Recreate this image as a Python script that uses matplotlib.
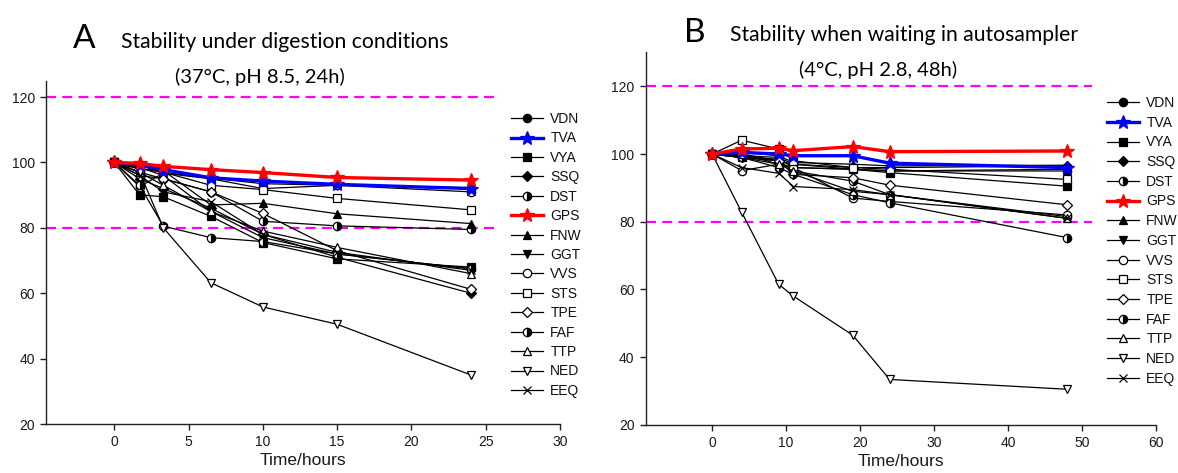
import matplotlib
matplotlib.use("Agg")
import matplotlib.pyplot as plt

# ---------------- data ----------------
names = ["VDN", "TVA", "VYA", "SSQ", "DST", "GPS", "FNW", "GGT",
         "VVS", "STS", "TPE", "FAF", "TTP", "NED", "EEQ"]

time_a = [0, 1.7, 3.3, 6.5, 10, 15, 24]
vals_a = {
    "VDN": [100, 99.0, 97.0, 95.2, 93.5, 93.0, 92.3],
    "TVA": [100, 99.3, 97.8, 95.3, 94.3, 93.3, 92.0],
    "VYA": [100, 90.1, 89.5, 83.5, 75.5, 70.5, 68.0],
    "SSQ": [100, 95.0, 92.0, 86.0, 78.0, 71.0, 60.0],
    "DST": [100, 97.0, 95.0, 91.0, 82.0, 80.6, 79.5],
    "GPS": [100, 99.7, 98.8, 97.8, 96.9, 95.4, 94.6],
    "FNW": [100, 98.0, 97.5, 87.0, 87.5, 84.3, 81.3],
    "GGT": [100, 98.5, 96.0, 85.0, 77.0, 72.0, 67.5],
    "VVS": [100, 92.6, 96.7, 95.0, 92.0, 93.0, 91.0],
    "STS": [100, 98.0, 97.0, 93.0, 91.7, 89.0, 85.5],
    "TPE": [100, 96.0, 95.0, 91.0, 84.4, 73.0, 61.2],
    "FAF": [100, 93.0, 80.5, 77.0, 75.8, 72.0, 67.5],
    "TTP": [100, 97.0, 93.0, 85.0, 79.0, 74.0, 66.0],
    "NED": [100, 97.0, 80.0, 63.2, 55.8, 50.5, 35.0],
    "EEQ": [100, 96.0, 91.0, 88.0, 78.0, 72.5, 67.0],
}

time_b = [0, 4, 9, 11, 19, 24, 48]
vals_b = {
    "VDN": [100, 99.5, 99.0, 97.0, 95.5, 95.0, 95.0],
    "TVA": [100, 100.5, 100.0, 99.5, 99.5, 97.3, 96.0],
    "VYA": [100, 99.0, 98.5, 96.0, 95.5, 94.5, 90.5],
    "SSQ": [100, 99.0, 98.0, 97.0, 96.0, 96.0, 96.5],
    "DST": [100, 99.0, 98.0, 95.0, 92.0, 88.0, 81.5],
    "GPS": [100, 101.5, 101.7, 101.0, 102.2, 100.7, 100.9],
    "FNW": [100, 100.5, 99.5, 97.5, 97.0, 96.5, 96.7],
    "GGT": [100, 99.0, 97.0, 96.0, 95.5, 95.0, 95.5],
    "VVS": [100, 95.1, 97.0, 96.0, 87.0, 86.0, 82.0],
    "STS": [100, 104.1, 101.5, 98.0, 96.0, 95.5, 92.5],
    "TPE": [100, 100.0, 98.0, 94.0, 93.0, 90.8, 85.0],
    "FAF": [100, 99.0, 96.0, 94.0, 88.0, 85.6, 75.3],
    "TTP": [100, 100.0, 97.0, 95.0, 89.0, 88.0, 81.0],
    "NED": [100, 82.8, 61.5, 58.0, 46.5, 33.4, 30.5],
    "EEQ": [100, 96.0, 94.3, 90.4, 89.5, 88.0, 81.0],
}

limit_lines = [80, 120]
xticks_a = [0, 5, 10, 15, 20, 25, 30]
xticks_b = [0, 10, 20, 30, 40, 50, 60]
yticks = [20, 40, 60, 80, 100, 120]

# ---------------- styles ----------------
K = "black"
styles = {
    "VDN": dict(marker="o", mfc=K, mec=K, ms=6),
    "TVA": dict(marker="*", mfc="#0000ff", mec="#0000ff", ms=10, color="#0000ff", lw=2.4),
    "VYA": dict(marker="s", mfc=K, mec=K, ms=5.5),
    "SSQ": dict(marker="D", mfc=K, mec=K, ms=5.5),
    "DST": dict(marker="o", mfc=K, mec=K, ms=6, fillstyle="right", markerfacecoloralt="white"),
    "GPS": dict(marker="*", mfc="#ff0000", mec="#ff0000", ms=10, color="#ff0000", lw=2.4),
    "FNW": dict(marker="^", mfc=K, mec=K, ms=6),
    "GGT": dict(marker="v", mfc=K, mec=K, ms=6),
    "VVS": dict(marker="o", mfc="white", mec=K, ms=6),
    "STS": dict(marker="s", mfc="white", mec=K, ms=5.5),
    "TPE": dict(marker="D", mfc="white", mec=K, ms=5.5),
    "FAF": dict(marker="o", mfc=K, mec=K, ms=6, fillstyle="right", markerfacecoloralt="white"),
    "TTP": dict(marker="^", mfc="white", mec=K, ms=6),
    "NED": dict(marker="v", mfc="white", mec=K, ms=6),
    "EEQ": dict(marker="x", mfc=K, mec=K, ms=6),
}

W, H = 1178, 473
fig = plt.figure(figsize=(W / 100, H / 100), dpi=100)
plt.rcParams["font.family"] = ["Liberation Sans", "DejaVu Sans"]

def px_rect(l, t, r, b):
    return [l / W, 1 - b / H, (r - l) / W, (b - t) / H]

ax_a = fig.add_axes(px_rect(46, 80.7, 560, 424))
ax_b = fig.add_axes(px_rect(645.5, 52.5, 1156, 424.8))

def draw(ax, t, vals, xlim, ylim, xticks, dash_end):
    for lim in limit_lines:
        ax.plot([xlim[0], dash_end], [lim, lim], color="#ff00ff", lw=1.6,
                linestyle=(0, (4.5, 2.8)), zorder=1, clip_on=False)
    handles = []
    for n in names:
        st = dict(styles[n])
        color = st.pop("color", K)
        lw = st.pop("lw", 0.9)
        z = 4 if color != K else 2
        line, = ax.plot(t, vals[n], color=color, lw=lw, markeredgewidth=0.9,
                        zorder=z, clip_on=False, **st)
        handles.append(line)
    ax.set_xlim(*xlim)
    ax.set_ylim(*ylim)
    ax.set_xticks(xticks)
    ax.set_yticks(yticks)
    for s in ["top", "right"]:
        ax.spines[s].set_visible(False)
    for s in ["left", "bottom"]:
        ax.spines[s].set_linewidth(1.0)
        ax.spines[s].set_color("#222222")
    ax.tick_params(direction="out", length=4, width=1.0, colors="#222222",
                   labelsize=10, labelcolor="#1a1a1a", pad=4)
    ax.set_xlabel("Time/hours", fontsize=12.5, color="#1a1a1a", labelpad=3)
    return handles

h_a = draw(ax_a, time_a, vals_a, (-4.6, 30), (20, 125), xticks_a, 25.6)
h_b = draw(ax_b, time_b, vals_b, (-9, 60), (20, 130), xticks_b, 51.4)

def add_legend(handles, x_left, y_top, spacing):
    leg = fig.legend(handles, names, loc="upper left",
                     bbox_to_anchor=(x_left / W, 1 - y_top / H),
                     frameon=False, borderpad=0, borderaxespad=0,
                     fontsize=10, handlelength=2.3, handletextpad=0.55,
                     labelspacing=spacing, numpoints=1)
    for tx in leg.get_texts():
        tx.set_color("#111111")
    return leg

add_legend(h_a, 510.7, 112.0, 0.39)
add_legend(h_b, 1106.7, 96.0, 0.41)

tfont = ["Lato", "DejaVu Sans"]
fig.text(73 / W, 1 - 39 / H, "A", fontsize=24, family=tfont, va="center", ha="left")
fig.text(121 / W, 1 - 42 / H, "Stability under digestion conditions", fontsize=15.2,
         family=tfont, va="center", ha="left")
fig.text(260 / W, 1 - 77 / H, "(37°C, pH 8.5, 24h)", fontsize=14.5,
         family=tfont, va="center", ha="center")
fig.text(684 / W, 1 - 33 / H, "B", fontsize=24, family=tfont, va="center", ha="left")
fig.text(730 / W, 1 - 35 / H, "Stability when waiting in autosampler", fontsize=15.2,
         family=tfont, va="center", ha="left")
fig.text(878 / W, 1 - 70 / H, "(4°C, pH 2.8, 48h)", fontsize=14.5,
         family=tfont, va="center", ha="center")

fig.savefig("out.png", dpi=100)
